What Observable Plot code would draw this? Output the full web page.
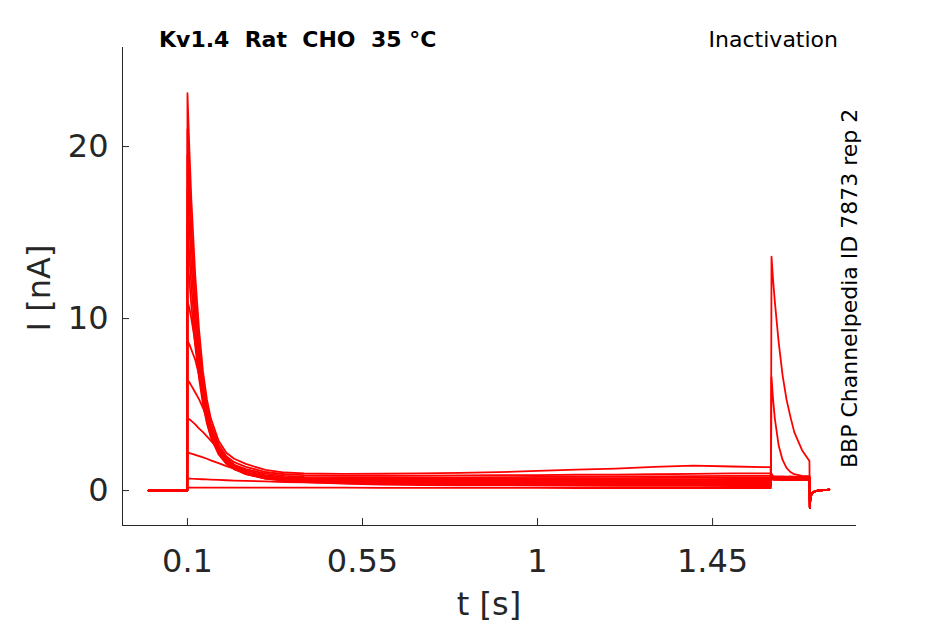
<!DOCTYPE html>
<html><head><meta charset="utf-8">
<script src="https://cdn.jsdelivr.net/npm/d3@7"></script>
<script src="https://cdn.jsdelivr.net/npm/@observablehq/plot@0.6"></script>
<style>html,body{margin:0;padding:0;background:#fff;} svg{display:block}</style>
</head><body><div id="chart"></div>
<script>
// time samples (s): prepulse segment and test-pulse segment
const tPre = [0, 0.0995, 0.1, 0.105, 0.11, 0.12, 0.13, 0.14, 0.15, 0.16, 0.18, 0.2, 0.22, 0.25, 0.3,
  0.35, 0.4, 0.5, 0.6, 0.7, 0.8, 0.9, 1.0, 1.1, 1.2, 1.3, 1.4, 1.5, 1.599];
const tTest = [1.6, 1.6015, 1.605, 1.61, 1.62, 1.63, 1.64, 1.65, 1.66, 1.68, 1.699, 1.7, 1.701, 1.703, 1.706, 1.71, 1.72, 1.75];

// current (nA) for each sweep
const sweep01 = [0, 0, 0.16, 0.17, 0.17, 0.17, 0.17, 0.17, 0.17, 0.17, 0.17, 0.17, 0.17, 0.17, 0.17,
  0.17, 0.17, 0.17, 0.16, 0.16, 0.16, 0.16, 0.16, 0.15, 0.15, 0.15, 0.15, 0.15, 0.15,
  0.15, 13.6, 12.4, 11.0, 8.6, 6.7, 5.3, 4.3, 3.4, 2.35, 1.72, -1.0, -0.6, -0.3, -0.15, -0.08, 0.0, 0.05];
const sweep02 = [0, 0, 0.7, 0.7, 0.69, 0.68, 0.67, 0.66, 0.65, 0.64, 0.62, 0.6, 0.58, 0.56, 0.53,
  0.5, 0.48, 0.44, 0.4, 0.37, 0.34, 0.32, 0.3, 0.29, 0.28, 0.27, 0.27, 0.26, 0.26,
  0.26, 6.6, 5.45, 4.2, 2.6, 1.78, 1.32, 1.08, 0.95, 0.85, 0.82, -1.0, -0.6, -0.3, -0.15, -0.08, 0.0, 0.05];
const sweep03 = [0, 0, 2.2, 2.18, 2.15, 2.08, 2.0, 1.93, 1.85, 1.76, 1.6, 1.42, 1.28, 1.05, 0.78,
  0.6, 0.5, 0.4, 0.35, 0.32, 0.31, 0.3, 0.3, 0.3, 0.31, 0.31, 0.31, 0.32, 0.32,
  0.62, 0.74, 0.63, 0.62, 0.62, 0.61, 0.62, 0.61, 0.62, 0.61, 0.62, -0.95, -0.58, -0.3, -0.15, -0.08, 0.0, 0.05];
const sweep04 = [0, 0, 4.2, 4.15, 4.05, 3.85, 3.6, 3.4, 3.15, 2.9, 2.4, 1.9, 1.5, 1.1, 0.75,
  0.6, 0.52, 0.43, 0.39, 0.37, 0.36, 0.36, 0.36, 0.37, 0.37, 0.37, 0.38, 0.38, 0.38,
  0.64, 0.77, 0.65, 0.64, 0.64, 0.63, 0.64, 0.63, 0.64, 0.63, 0.64, -0.96, -0.58, -0.3, -0.15, -0.08, 0.0, 0.05];
const sweep05 = [0, 0, 6.4, 6.3, 6.1, 5.7, 5.3, 4.8, 4.2, 3.6, 2.5, 1.8, 1.35, 1.0, 0.7,
  0.58, 0.52, 0.46, 0.43, 0.42, 0.42, 0.42, 0.42, 0.43, 0.43, 0.43, 0.44, 0.44, 0.44,
  0.66, 0.8, 0.67, 0.66, 0.66, 0.65, 0.66, 0.65, 0.66, 0.65, 0.66, -0.97, -0.6, -0.3, -0.15, -0.08, 0.0, 0.05];
const sweep06 = [0, 0, 8.7, 8.5, 8.2, 7.6, 6.7, 5.6, 4.5, 3.6, 2.4, 1.7, 1.3, 0.95, 0.7,
  0.6, 0.55, 0.5, 0.48, 0.47, 0.47, 0.47, 0.48, 0.48, 0.49, 0.49, 0.5, 0.5, 0.5,
  0.68, 0.82, 0.69, 0.68, 0.68, 0.67, 0.68, 0.67, 0.68, 0.67, 0.68, -0.98, -0.6, -0.3, -0.15, -0.08, 0.0, 0.05];
const sweep07 = [0, 0, 11.0, 10.6, 10.0, 8.6, 7.0, 5.6, 4.4, 3.5, 2.3, 1.6, 1.25, 0.95, 0.72,
  0.65, 0.6, 0.55, 0.53, 0.52, 0.52, 0.53, 0.53, 0.54, 0.54, 0.55, 0.55, 0.56, 0.56,
  0.7, 0.84, 0.71, 0.7, 0.7, 0.69, 0.7, 0.69, 0.7, 0.69, 0.7, -0.98, -0.6, -0.3, -0.15, -0.08, 0.0, 0.05];
const sweep08 = [0, 0, 13.6, 12.2, 10.8, 8.4, 6.5, 5.0, 3.9, 3.1, 2.1, 1.55, 1.25, 1.0, 0.78,
  0.68, 0.64, 0.6, 0.58, 0.58, 0.58, 0.59, 0.59, 0.6, 0.6, 0.61, 0.61, 0.62, 0.62,
  0.72, 0.86, 0.73, 0.72, 0.72, 0.71, 0.72, 0.71, 0.72, 0.71, 0.72, -0.99, -0.6, -0.3, -0.15, -0.08, 0.0, 0.05];
const sweep09 = [0, 0, 15.5, 13.6, 11.9, 9.0, 6.9, 5.3, 4.1, 3.2, 2.2, 1.65, 1.33, 1.08, 0.84,
  0.72, 0.68, 0.64, 0.63, 0.63, 0.64, 0.64, 0.65, 0.66, 0.66, 0.67, 0.67, 0.68, 0.68,
  0.74, 0.88, 0.75, 0.74, 0.74, 0.73, 0.74, 0.73, 0.74, 0.73, 0.74, -0.99, -0.6, -0.3, -0.15, -0.08, 0.0, 0.05];
const sweep10 = [0, 0, 17.5, 15.2, 13.1, 9.8, 7.4, 5.6, 4.3, 3.4, 2.35, 1.75, 1.42, 1.17, 0.9,
  0.78, 0.74, 0.7, 0.69, 0.7, 0.7, 0.71, 0.72, 0.73, 0.73, 0.74, 0.75, 0.76, 0.76,
  0.76, 0.9, 0.77, 0.76, 0.76, 0.75, 0.76, 0.75, 0.76, 0.75, 0.76, -1.0, -0.6, -0.3, -0.15, -0.08, 0.0, 0.05];
const sweep11 = [0, 0, 19.5, 16.8, 14.4, 10.6, 8.0, 6.0, 4.6, 3.6, 2.5, 1.85, 1.5, 1.25, 0.98,
  0.85, 0.8, 0.78, 0.76, 0.76, 0.77, 0.78, 0.8, 0.8, 0.82, 0.83, 0.84, 0.85, 0.86,
  0.78, 0.92, 0.79, 0.78, 0.78, 0.77, 0.78, 0.77, 0.78, 0.77, 0.78, -1.0, -0.6, -0.3, -0.15, -0.08, 0.0, 0.05];
const sweep12 = [0, 0, 21.0, 18.0, 15.4, 11.3, 8.5, 6.4, 4.9, 3.9, 2.7, 2.0, 1.65, 1.38, 1.08,
  0.95, 0.9, 0.87, 0.86, 0.87, 0.88, 0.9, 0.9, 0.92, 0.93, 0.95, 0.97, 1.0, 1.0,
  0.8, 0.95, 0.82, 0.8, 0.8, 0.79, 0.8, 0.79, 0.8, 0.79, 0.8, -1.0, -0.6, -0.3, -0.15, -0.08, 0.0, 0.05];
const sweep13 = [0, 0, 23.1, 19.8, 16.9, 12.5, 9.3, 6.9, 5.3, 4.2, 2.9, 2.2, 1.85, 1.55, 1.2,
  1.05, 1.0, 0.97, 0.98, 1.0, 1.03, 1.07, 1.15, 1.22, 1.28, 1.38, 1.45, 1.4, 1.36,
  0.82, 0.98, 0.84, 0.83, 0.82, 0.82, 0.81, 0.82, 0.81, 0.81, 0.82, -1.0, -0.6, -0.3, -0.15, -0.08, 0.0, 0.05];

const sweeps = [sweep01, sweep02, sweep03, sweep04, sweep05, sweep06, sweep07,
  sweep08, sweep09, sweep10, sweep11, sweep12, sweep13];

const xTicks = [0.1, 0.55, 1, 1.45];
const yTicks = [0, 10, 20];
const xDomain = [-0.067, 1.82];
const yDomain = [-2.03, 25.76];

const time = tPre.concat(tTest);
const rows = sweeps.flatMap((v, k) => v.map((val, j) => ({sweep: k, t: time[j], i: val})));

const ink = "#262626";
const chart = Plot.plot({
  width: 945, height: 624,
  marginLeft: 122, marginRight: 89, marginTop: 47, marginBottom: 99,
  style: {fontFamily: "DejaVu Sans", background: "#fff", overflow: "visible"},
  x: {domain: xDomain},
  y: {domain: yDomain},
  marks: [
    Plot.line(rows, {x: "t", y: "i", z: "sweep", stroke: "#ff0000", strokeWidth: 1.8, strokeLinejoin: "round"}),
    Plot.ruleX([xDomain[0]], {stroke: ink, strokeWidth: 1}),
    Plot.ruleY([yDomain[0]], {stroke: ink, strokeWidth: 1}),
    Plot.ruleX(xTicks, {y1: yDomain[0], y2: yDomain[0] + 0.4, stroke: ink}),
    Plot.ruleY(yTicks, {x1: xDomain[0], x2: xDomain[0] + 0.018, stroke: ink}),
    Plot.axisX(xTicks, {tickSize: 0, tickPadding: 24, fontSize: 32, fill: ink, label: null, tickFormat: d => String(d)}),
    Plot.axisY(yTicks, {tickSize: 0, tickPadding: 14, fontSize: 32, fill: ink, label: null, tickFormat: d => String(d)})
  ]
});
document.getElementById("chart").appendChild(chart);

const svg = d3.select(chart);
const font = "DejaVu Sans";
svg.append("text").attr("x", 159).attr("y", 47).attr("text-anchor", "start").attr("font-family", font).attr("font-size", 22)
  .attr("font-weight", "bold").attr("fill", "#000").style("white-space", "pre")
  .text("Kv1.4  Rat  CHO  35 °C");
svg.append("text").attr("x", 838).attr("y", 46.5).attr("text-anchor", "end").attr("font-family", font)
  .attr("font-size", 22).attr("fill", "#000").text("Inactivation");
svg.append("text").attr("transform", "translate(857,468) rotate(-90)").attr("text-anchor", "start").attr("font-family", font)
  .attr("font-size", 22).attr("fill", "#000").text("BBP Channelpedia ID 7873 rep 2");
svg.append("text").attr("x", 489).attr("y", 615).attr("text-anchor", "middle").attr("font-family", font)
  .attr("font-size", 32).attr("fill", ink).text("t [s]");
svg.append("text").attr("transform", "translate(50,288) rotate(-90)").attr("text-anchor", "middle")
  .attr("font-family", font).attr("font-size", 32).attr("fill", ink).text("I [nA]");
</script>
</body></html>
